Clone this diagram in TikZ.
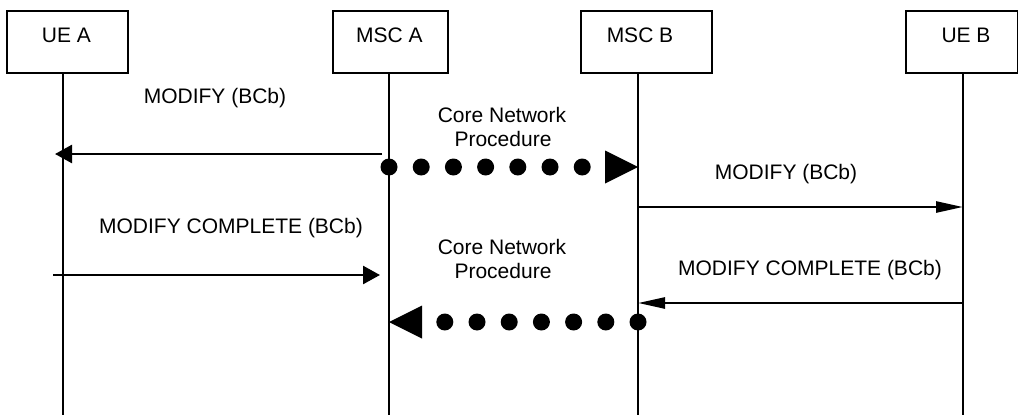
\documentclass[tikz,border=0pt]{standalone}
\usepackage{fontspec}
\setmainfont{Liberation Sans}
\usetikzlibrary{arrows.meta}
\begin{document}
\begin{tikzpicture}[x=1pt,y=-1pt,
  entity/.style={draw, line width=1.6pt, anchor=north west, inner sep=0pt, minimum height=62pt},
  lbl/.style={anchor=base, inner sep=0pt, font=\fontsize{21}{24}\selectfont},
  life/.style={line width=1.6pt},
  msgL/.style={line width=2.6pt, -{Triangle[length=17pt,width=18pt]}},
  msgR/.style={line width=2.6pt, -{Triangle[length=27pt,width=11pt]}},
  dotline/.style={line width=17pt, line cap=round, dash pattern=on 0pt off 32.2pt,
    -{Triangle[length=33pt,width=33pt,line width=0pt]}}
]
\useasboundingbox (0,0) rectangle (1018,415);
\fill[white] (0,0) rectangle (1018,415);

% entity boxes
\node[entity, minimum width=121pt] (uea) at (6,10) {};
\node[entity, minimum width=115pt] (msca) at (332,10) {};
\node[entity, minimum width=131pt] (mscb) at (580,10) {};
\node[entity, minimum width=112pt] (ueb) at (905,10) {};
\node[lbl] (uea-t) at (66.5,42) {UE A};
\node[lbl] (msca-t) at (389.5,42) {MSC A};
\node[lbl] (mscb-t) at (640,42) {MSC B};
\node[lbl] (ueb-t) at (966,42) {UE B};

% lifelines
\coordinate (ta) at (63,72);   \coordinate (ba) at (63,415);
\coordinate (tb) at (389,72);  \coordinate (bb) at (389,415);
\coordinate (tc) at (638,72);  \coordinate (bc) at (638,415);
\coordinate (td) at (963,72);  \coordinate (bd) at (963,415);
\draw[life] (ta) -- (ba);
\draw[life] (tb) -- (bb);
\draw[life] (tc) -- (bc);
\draw[life] (td) -- (bd);

% messages
\coordinate (m1s) at (382,154); \coordinate (m1e) at (55,154);
\draw[msgL] (m1s) -- (m1e);
\node[lbl] (l1) at (215,103) {MODIFY (BCb)};

\coordinate (d1s) at (389,167); \coordinate (d1e) at (638,167);
\draw[dotline] (d1s) -- (d1e);
\node[lbl] (c1a) at (502,122) {Core Network};
\node[lbl] (c1b) at (503,146) {Procedure};

\coordinate (m2s) at (638,207); \coordinate (m2e) at (963,207);
\draw[msgR] (m2s) -- (m2e);
\node[lbl] (l2) at (786,179) {MODIFY (BCb)};

\coordinate (m3s) at (53,275); \coordinate (m3e) at (380,275);
\draw[msgL] (m3s) -- (m3e);
\node[lbl] (l3) at (231,233) {MODIFY COMPLETE (BCb)};

\coordinate (m4s) at (963,303); \coordinate (m4e) at (638,303);
\draw[msgR] (m4s) -- (m4e);
\node[lbl] (l4) at (810,275) {MODIFY COMPLETE (BCb)};

\coordinate (d2s) at (638,322); \coordinate (d2e) at (389,322);
\draw[dotline] (d2s) -- (d2e);
\node[lbl] (c2a) at (502,254) {Core Network};
\node[lbl] (c2b) at (503,278) {Procedure};
\end{tikzpicture}
\end{document}
